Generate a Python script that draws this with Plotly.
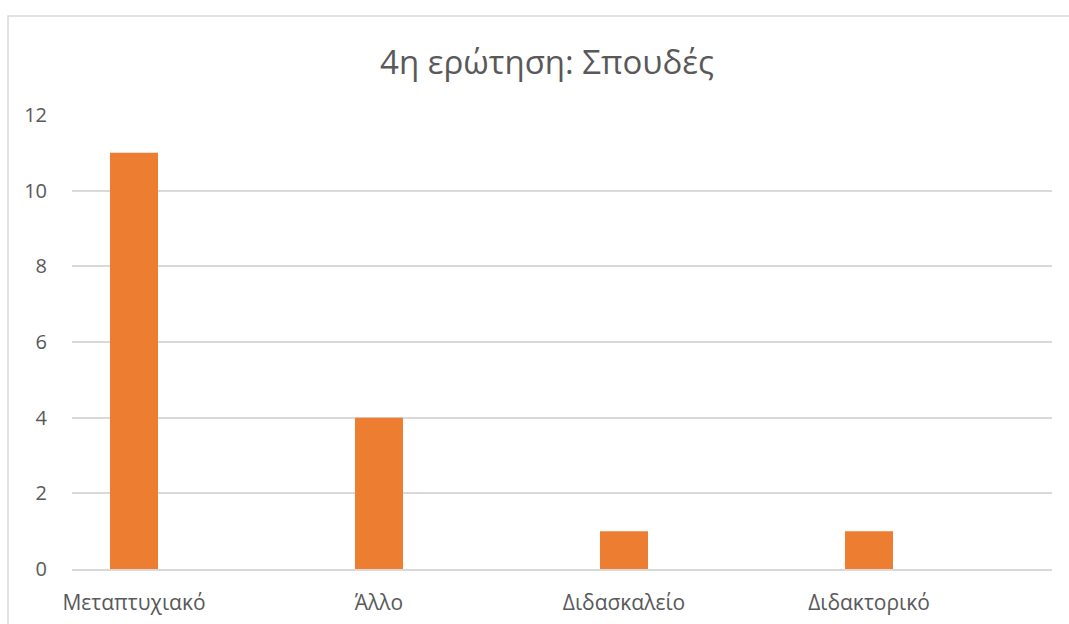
import plotly.graph_objects as go

categories = ["Μεταπτυχιακό", "Άλλο", "Διδασκαλείο", "Διδακτορικό"]
counts = [11, 4, 1, 1]
y_ticks = [0, 2, 4, 6, 8, 10, 12]

W, H = 1069, 624
L, R, T, B = 72, 17, 115, 55

fig = go.Figure(
    go.Bar(
        x=categories,
        y=counts,
        marker=dict(color="#ED7D31", line=dict(width=0)),
        width=0.196,
    )
)

pw = W - L - R
ph = H - T - B

fig.update_layout(
    width=W,
    height=H,
    margin=dict(l=L, r=R, t=T, b=B, autoexpand=False),
    paper_bgcolor="white",
    plot_bgcolor="white",
    showlegend=False,
    font=dict(family="Open Sans, Noto Sans, sans-serif", color="#595959"),
    title=dict(
        text="4η ερώτηση: Σπουδές",
        x=547 / W,
        xanchor="center",
        xref="container",
        y=1 - 62 / H,
        yanchor="middle",
        yref="container",
        font=dict(size=33, color="#595959"),
    ),
    xaxis=dict(
        range=[-0.253, 3.747],
        showgrid=False,
        showline=True,
        linecolor="#D9D9D9",
        linewidth=1.5,
        tickfont=dict(size=21, color="#595959"),
        ticks="",
        ticklabelstandoff=14,
        automargin=False,
    ),
    yaxis=dict(
        range=[0, 12],
        tickvals=y_ticks,
        showgrid=True,
        gridcolor="#D9D9D9",
        gridwidth=1.5,
        zeroline=False,
        showline=False,
        tickfont=dict(size=20, color="#595959"),
        ticks="",
        ticklabelstandoff=24,
        automargin=False,
    ),
    shapes=[
        dict(
            type="rect",
            xref="paper",
            yref="paper",
            x0=(8 - L) / pw,
            x1=(W + 20 - L) / pw,
            y0=-(B + 20) / ph,
            y1=(H - 16 - B) / ph,
            line=dict(color="#D9D9D9", width=1.5),
            fillcolor="rgba(0,0,0,0)",
            layer="below",
        )
    ],
)

fig.write_html("out.html")
